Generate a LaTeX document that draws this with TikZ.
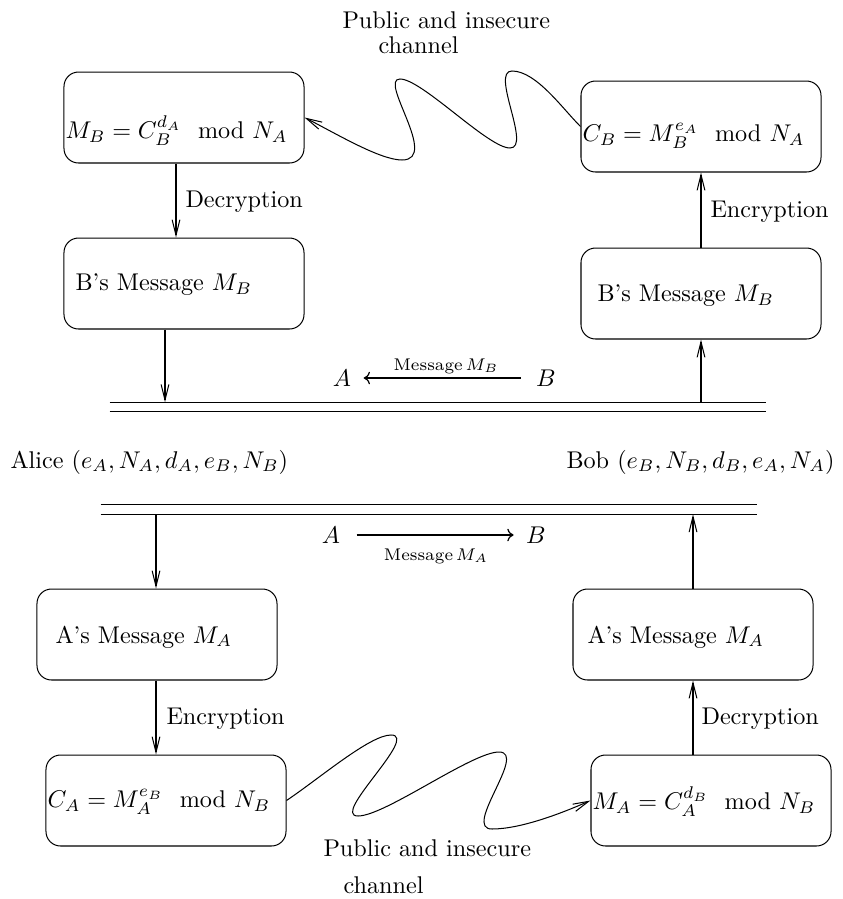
\documentclass[tikz,border=0pt]{standalone}
\usetikzlibrary{arrows.meta}
\begin{document}
\begin{tikzpicture}[x=0.4133pt,y=-0.4133pt,line width=0.42pt,
  box/.style={draw,rounded corners=6pt,minimum width=99.2pt,minimum height=37.6pt,inner sep=0pt},
  lbl/.style={anchor=west,inner sep=0pt},
  txt/.style={anchor=base west,inner sep=0pt},
  sym/.style={inner sep=0pt},
  bus/.style={minimum width=271.1pt,minimum height=3.5pt,inner sep=0pt},
  arr/.style={-{Straight Barb[length=6.5pt,width=3.2pt]}},
  msg/.style={line width=1.1pt,-{To[length=2.6pt,width=5.2pt,line width=0.5pt]}},
  tiny/.style={font=\scriptsize,inner sep=0pt}]
\useasboundingbox (0,0) rectangle (843,899);

% boxes
\node[box] (b1) at (184,117.5) {};
\node[box] (b2) at (701,126.5) {};
\node[box] (b3) at (184,283.5) {};
\node[box] (b4) at (701,293.5) {};
\node[box] (b5) at (157,634.5) {};
\node[box] (b6) at (693,634.5) {};
\node[box] (b7) at (166,800.5) {};
\node[box] (b8) at (711,800.5) {};

% box contents
\node[lbl] (f1) at (65,131) {$M_B = C_B^{d_A}\ \ \mathrm{mod}\ N_A$};
\node[lbl] (f2) at (582,136) {$C_B = M_B^{e_A}\ \ \mathrm{mod}\ N_A$};
\node[lbl] (m3) at (75,285) {B's Message $M_B$};
\node[lbl] (m4) at (597,296) {B's Message $M_B$};
\node[lbl] (m5) at (55,637) {A's Message $M_A$};
\node[lbl] (m6) at (587,637) {A's Message $M_A$};
\node[lbl] (f7) at (47,802) {$C_A = M_A^{e_B}\ \ \mathrm{mod}\ N_B$};
\node[lbl] (f8) at (592,802) {$M_A = C_A^{d_B}\ \ \mathrm{mod}\ N_B$};

% step labels
\node[lbl] (dec1) at (185,202) {Decryption};
\node[lbl] (enc1) at (710,212) {Encryption};
\node[lbl] (enc2) at (166,719) {Encryption};
\node[lbl] (dec2) at (701,719) {Decryption};

% the two double lines
\node[bus] (bus1) at (438,407) {};
\node[bus] (bus2) at (429,509.5) {};
\draw (bus1.north west) -- (bus1.north east);
\draw (bus1.south west) -- (bus1.south east);
\draw (bus2.north west) -- (bus2.north east);
\draw (bus2.south west) -- (bus2.south east);

% key sets
\node[lbl] (alice) at (10,462) {Alice $(e_A, N_A, d_A, e_B, N_B)$};
\node[lbl] (bob) at (566,462) {Bob $(e_B, N_B, d_B, e_A, N_A)$};

% message directions
\node[sym] (A1) at (342,378) {$A$};
\node[sym] (B1) at (546,378) {$B$};
\draw[msg] ([xshift=-6.2pt]B1.west) -- ([xshift=5pt]A1.east);
\node[tiny] (lab1) at (446,366) {Message\,$M_B$};
\node[sym] (A2) at (331,535) {$A$};
\node[sym] (B2) at (536,535) {$B$};
\draw[msg] ([xshift=6.6pt]A2.east) -- ([xshift=-5pt]B2.west);
\node[tiny] (lab2) at (436,556) {Message\,$M_A$};

% vertical flow
\coordinate (xa) at (176,0);
\coordinate (xb) at (165,0);
\coordinate (xc) at (156,0);
\draw[arr] (b1.south -| xa) -- (b3.north -| xa);
\draw[arr] (b3.south -| xb) -- (bus1.north -| xb);
\draw[arr] (bus1.north -| b4) -- (b4.south);
\draw[arr] (b4.north) -- (b2.south);
\draw[arr] (bus2.south -| xc) -- (b5.north -| xc);
\draw[arr] (b5.south -| xc) -- (b7.north -| xc);
\draw[arr] (b8.north -| b6) -- (b6.south);
\draw[arr] (b6.north) -- (bus2.south -| b6);

% insecure channels
\draw[arr] (b2.west)
  .. controls (562,108) and (536,71) .. (512,71)
  .. controls (490,71) and (532,148) .. (510,148)
  .. controls (488,148) and (422,79) .. (400,79)
  .. controls (378,79) and (440,160) .. (402,160)
  .. controls (380,160) and (335,133) .. (b1.east);
\draw[arr] (b7.east)
  .. controls (320,778) and (370,735) .. (391,735)
  .. controls (420,735) and (330,816) .. (358,816)
  .. controls (385,816) and (472,752) .. (499,752)
  .. controls (528,752) and (462,829) .. (492,829)
  .. controls (520,829) and (560,814) .. (b8.west);

\node[txt] (pub1) at (342,28) {Public and insecure};
\node[txt] (ch1) at (378,53) {channel};
\node[txt] (pub2) at (323,856) {Public and insecure};
\node[txt] (ch2) at (343,893) {channel};
\end{tikzpicture}
\end{document}
